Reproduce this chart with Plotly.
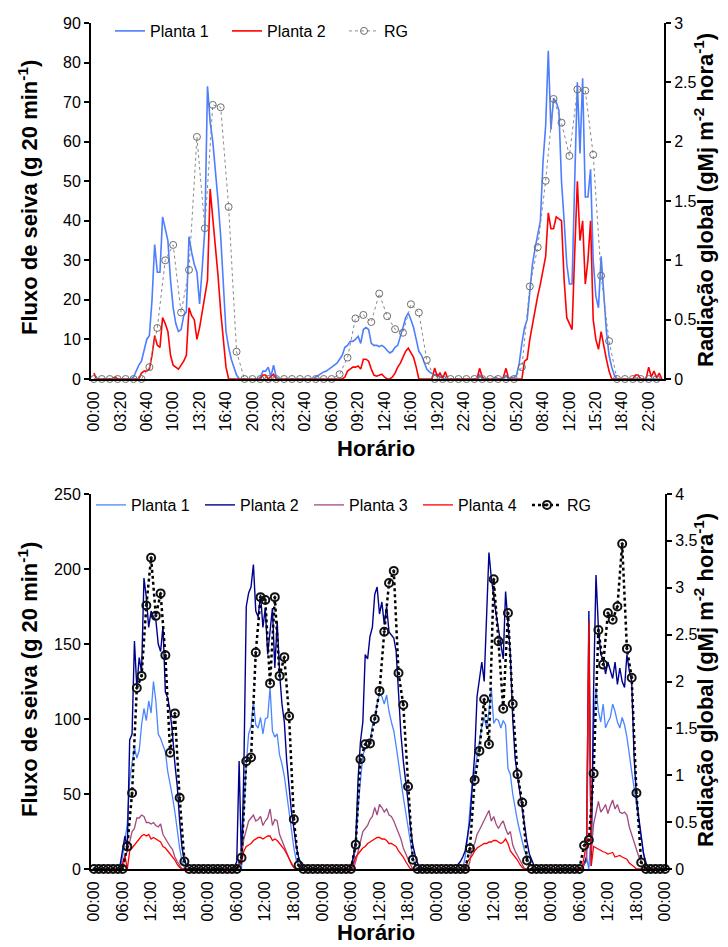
import plotly.graph_objects as go

# ---------------- TOP CHART (20-min steps, 3 days) ----------------
top_tick_labels = ["00:00", "03:20", "06:40", "10:00", "13:20", "16:40", "20:00", "23:20",
                   "02:40", "06:00", "09:20", "12:40", "16:00", "19:20", "22:40", "02:00",
                   "05:20", "08:40", "12:00", "15:20", "18:40", "22:00"]

top_planta1 = [
    # day 1
    0, 0, 0, 0, 0, 0, 0, 0, 0, 0, 0, 0, 0, 0, 0,
    0.5, 2, 3.5, 4.5, 7.5, 10, 11, 20, 34, 27, 27, 41, 38, 35, 25, 18, 14, 12, 12.5, 16, 17,
    36, 32, 29, 27, 19, 28, 38, 74, 65, 60, 53, 45, 36, 24, 12, 8, 5, 3, 1, 0,
    0, 0, 0, 0, 0, 0, 0, 0.5, 2, 2, 3, 0.5, 3.5, 0.5, 0, 0,
    # day 2
    0, 0, 0, 0, 0, 0, 0, 0, 0, 0, 0, 0,
    0.5, 1, 1.5, 1.8, 2, 2.5, 3, 3.3, 4, 5, 6, 8, 8.5, 9.5, 9.5, 10, 10.8, 9, 12.5, 13, 12.5,
    9, 8.5, 8.5, 8.2, 8.5, 8, 7.2, 6.6, 7, 8, 8.5, 10.5, 13, 15.5, 16.7, 15, 13, 10, 7, 6, 4,
    2.5, 1.8, 1.5, 1, 1.2, 0.5, 0.3, 0, 0, 0, 0, 0, 0, 0, 0, 0, 0, 0,
    # day 3
    0, 0, 1, 0, 0, 0, 0, 0, 0.5, 0, 0, 0, 0.8, 0, 0.5, 0.3,
    1, 4, 9, 13, 15, 22, 29, 33, 37, 40, 55, 64, 83, 63, 71, 70, 68, 50, 40, 29, 24, 24,
    50, 75, 57, 76, 46, 46, 53, 30, 21, 18, 31, 20, 12, 6, 3, 1, 0,
    0, 0, 0, 0, 0, 0, 0, 0, 0, 0, 0, 0, 0, 0, 0, 0, 0,
]

top_planta2 = [
    # day 1
    1.5, 0, 0, 0, 0, 0, 0, 0, 0.5, 0, 0, 0, 0, 0, 0, 0, 0, 0,
    1.5, 2, 2, 2.5, 6, 11, 8.5, 8, 15.5, 14, 12, 6, 3.5, 3, 2.5, 3.5, 4.5, 6,
    18, 16, 15, 10, 13, 17, 21, 25, 48, 41, 33, 26, 17, 9, 3,
    0, 0, 0, 0, 0, 0, 0, 0, 0, 0, 0, 0, 0,
    1, 1, 0, 0.5, 1.2, 0, 0, 0,
    # day 2
    0, 0, 0, 0, 0, 0, 0, 0, 0, 0, 0, 0, 0, 0, 0, 0, 0, 0, 0, 0, 0, 0, 0,
    0.5, 2, 2.5, 3, 3, 3.3, 2.5, 5, 5, 4.5, 2.5, 1, 0.7, 1, 1.2, 0.5, 0, 0, 0.5, 1.5,
    3, 4, 5.5, 7, 7.8, 6.5, 5.5, 3, 0, 0, 0, 0, 0, 0, 2.8, 0.5, 1.5, 0.2, 1.8,
    0, 0, 0, 0, 0, 0, 0, 0, 0, 0,
    # day 3
    0, 0, 2.7, 0.5, 0, 0, 0, 0, 0, 0, 0, 0.5, 2.7, 0, 0, 0, 0, 0, 0,
    4.5, 5, 10, 14, 17, 21, 24, 28, 31, 42, 38, 38, 41, 40.5, 40, 25, 15.5, 14, 12.5,
    32, 50, 35, 40, 24, 30, 40, 15, 10, 7.5, 12, 8, 5, 2, 0,
    0, 0, 0, 0, 0, 0, 0, 0,
    1, 1, 0, 0, 0, 3, 0.5, 2, 0.3, 1.5, 0,
]

top_rg = [
    0, 0, 0, 0, 0, 0, 0, 0.1, 0.43, 1.0, 1.13, 0.56, 0.92, 2.04, 1.27, 2.31, 2.29, 1.45, 0.23,
    0, 0, 0, 0, 0,
    0, 0, 0, 0, 0, 0, 0, 0.04, 0.18, 0.51, 0.54, 0.48, 0.72, 0.53, 0.42, 0.39, 0.63, 0.56, 0.16,
    0, 0, 0, 0, 0,
    0, 0, 0, 0, 0, 0, 0.1, 0.78, 1.11, 1.67, 2.36, 2.16, 1.88, 2.44, 2.43, 1.89, 0.87, 0.32,
    0, 0, 0, 0, 0, 0,
]

# ---------------- BOTTOM CHART (30-min steps, 5 days) ----------------
bot_tick_labels = ["00:00", "06:00", "12:00", "18:00"] * 5 + ["00:00"]

bot_planta1 = [
    # day 1
    0, 0, 0, 0, 0, 0, 0, 0, 0, 0, 0, 0,
    8, 18, 30, 60, 70, 81, 74, 79, 96, 107, 99, 112, 104, 125, 112, 90, 87, 82, 78, 65, 57, 48,
    38, 25, 14, 5, 1, 0, 0, 0, 0, 0, 0, 0, 0, 0,
    # day 2
    0, 0, 0, 0, 0, 0, 0, 0, 0, 0, 0, 0,
    0, 5, 0, 40, 70, 90, 95, 112, 96, 94, 101, 90, 100, 101, 121, 92, 88, 90, 76, 70, 62, 50,
    38, 25, 14, 6, 2, 0, 0, 0, 0, 0, 0, 0, 0, 0,
    # day 3
    0, 0, 0, 0, 0, 0, 0, 0, 0, 0, 0, 0,
    0, 5, 15, 41, 61, 76, 80, 83, 85, 95, 100, 110, 117, 115, 110, 116, 105, 98, 92, 82, 70, 60,
    48, 38, 27, 16, 8, 2, 0, 0, 0, 0, 0, 0, 0, 0,
    # day 4
    0, 0, 0, 0, 0, 0, 0, 0, 0, 0, 0, 0,
    8, 20, 40, 58, 65, 75, 85, 95, 101, 94, 105, 121, 97, 100, 99, 94, 99, 96, 67, 63, 50, 40,
    32, 25, 19, 12, 8, 4, 2, 0, 0, 0, 0, 0, 0, 0,
    # day 5
    0, 0, 0, 0, 0, 0, 0, 0, 0, 0, 0, 0,
    0, 0, 3, 8, 0, 27, 95, 121, 105, 98, 110, 94, 98, 101, 110, 105, 98, 94, 101, 96, 88, 75,
    65, 54, 43, 30, 19, 10, 4, 1, 0, 0, 0, 0, 0, 0,
    0,
]

bot_planta2 = [
    # day 1
    0, 0, 0, 0, 0, 0, 0, 0, 0, 0, 0, 3,
    12, 22, 14, 86, 90, 152, 121, 141, 131, 194, 181, 161, 172, 168, 166, 150, 145, 162, 118, 114,
    105, 90, 70, 55, 32, 14, 6, 2, 1, 0, 0, 0, 0, 0, 0, 0,
    # day 2
    0, 0, 0, 0, 0, 0, 0, 0, 0, 0, 0, 1,
    5, 72, 3, 68, 175, 184, 188, 203, 172, 168, 183, 161, 174, 143, 160, 174, 134, 165, 131, 110,
    98, 72, 55, 38, 27, 15, 8, 3, 1, 0, 0, 0, 0, 0, 0, 0,
    # day 3
    0, 0, 0, 0, 0, 0, 0, 0, 0, 0, 0, 0,
    2, 8, 19, 60, 85, 98, 143, 140, 155, 161, 183, 188, 170, 178, 163, 175, 158, 156, 154, 145,
    115, 90, 72, 60, 45, 28, 16, 9, 4, 1, 0, 0, 0, 0, 0, 0,
    # day 4
    0, 0, 0, 0, 0, 0, 0, 0, 0, 3, 5, 8,
    12, 22, 32, 55, 76, 115, 125, 138, 125, 170, 211, 194, 180, 170, 160, 150, 140, 185, 165, 143,
    100, 74, 62, 50, 38, 29, 18, 10, 6, 2, 0, 0, 0, 0, 0, 0,
    # day 5
    0, 0, 0, 0, 0, 0, 0, 0, 0, 0, 0, 0,
    0, 0, 3, 8, 172, 2, 120, 196, 161, 143, 140, 130, 138, 132, 127, 138, 123, 134, 125, 121,
    143, 132, 125, 75, 48, 34, 20, 10, 4, 1, 0, 0, 0, 0, 0, 0,
    0,
]

bot_planta3 = [
    # day 1
    0, 0, 0, 0, 0, 0, 0, 0, 0, 0, 0, 0,
    0, 8, 12, 18, 25, 27, 34, 34, 36, 35, 31, 31, 30, 31, 29, 28, 30, 23, 20, 18,
    15, 13, 8, 5, 2, 0, 0, 0, 0, 0, 0, 0, 0, 0, 0, 0,
    # day 2
    0, 0, 0, 0, 0, 0, 0, 0, 0, 0, 0, 0,
    0, 3, 9, 20, 27, 32, 34, 36, 32, 33, 35, 29, 32, 34, 40, 29, 33, 32, 23, 19,
    16, 12, 7, 3, 1, 0, 0, 0, 0, 0, 0, 0, 0, 0, 0, 0,
    # day 3
    0, 0, 0, 0, 0, 0, 0, 0, 0, 0, 0, 0,
    0, 0, 5, 12, 18, 25, 27, 29, 33, 35, 41, 36, 43, 41, 38, 40, 36, 35, 32, 28,
    23, 20, 14, 10, 6, 3, 0, 0, 0, 0, 0, 0, 0, 0, 0, 0,
    # day 4
    0, 0, 0, 0, 0, 0, 0, 0, 0, 0, 0, 0,
    0, 0, 5, 14, 17, 23, 26, 29.5, 33, 36, 39, 32, 35, 30, 27, 30, 32, 27, 23, 25,
    16, 12, 9, 6, 2, 0, 0, 0, 0, 0, 0, 0, 0, 0, 0, 0,
    # day 5
    0, 0, 0, 0, 0, 0, 0, 0, 0, 0, 0, 0,
    0, 0, 3, 5, 123, 12, 30, 38, 45, 38, 40, 43, 37, 42, 46, 40, 43, 38, 37, 38,
    36, 28, 23, 19, 13, 8, 5, 2, 0, 0, 0, 0, 0, 0, 0, 0,
    0,
]

bot_planta4 = [
    # day 1
    0, 0, 0, 0, 0, 0, 0, 0, 0, 0, 0, 0,
    4, 9, 0, 12, 14, 16, 18, 20, 22, 23, 22, 23, 20, 21, 20, 19, 18, 15, 14, 12,
    10, 8, 6, 3, 1, 0, 0, 0, 0, 0, 0, 0, 0, 0, 0, 0,
    # day 2
    0, 0, 0, 0, 0, 0, 0, 0, 0, 0, 0, 0,
    0, 2, 5, 12, 15, 16, 17, 19, 20, 21, 21, 20, 21, 22, 22, 19, 20, 19, 17, 15,
    13, 10, 7, 4, 1, 0, 0, 0, 0, 0, 0, 0, 0, 0, 0, 0,
    # day 3
    0, 0, 0, 0, 0, 0, 0, 0, 0, 0, 0, 0,
    0, 3, 8, 10, 12, 14, 15, 17, 18, 19, 20, 21, 21, 20, 20, 19, 17, 17, 16, 15,
    12, 10, 8, 5, 2, 0, 0, 0, 0, 0, 0, 0, 0, 0, 0, 0,
    # day 4
    0, 0, 0, 0, 0, 0, 0, 0, 0, 0, 0, 0,
    0, 5, 7, 9, 12, 14, 15, 16, 17, 17, 18, 18, 19, 19, 18, 17, 18, 20, 17, 12,
    10, 8, 6, 3, 1, 0, 0, 0, 0, 0, 0, 0, 0, 0, 0, 0,
    # day 5
    0, 0, 0, 0, 0, 0, 0, 0, 0, 0, 0, 0,
    0, 0, 8, 17, 165, 2, 15, 14, 13, 12, 11.5, 11, 10, 10.5, 11, 8, 8.5, 9, 8, 7,
    6.5, 4, 3, 1.5, 0, 0, 0, 0, 0, 0, 0, 0, 0, 0, 0, 0,
    0,
]

bot_rg = [
    0, 0, 0, 0, 0, 0, 0, 0.24, 0.81, 1.93, 2.06, 2.81, 3.32, 2.70, 2.94, 2.28, 1.24, 1.66, 0.76, 0.08,
    0, 0, 0, 0,
    0, 0, 0, 0, 0, 0, 0, 0.12, 1.15, 1.19, 2.31, 2.90, 2.87, 1.98, 2.90, 2.06, 2.26, 1.63, 0.53, 0.04,
    0, 0, 0, 0,
    0, 0, 0, 0, 0, 0, 0, 0.26, 1.17, 1.33, 1.34, 1.60, 1.90, 2.53, 3.05, 3.18, 2.09, 1.75, 0.88, 0.10,
    0, 0, 0, 0,
    0, 0, 0, 0, 0, 0, 0, 0.22, 0.95, 1.26, 1.81, 1.33, 3.09, 2.43, 1.71, 2.73, 1.76, 1.01, 0.71, 0.09,
    0, 0, 0, 0,
    0, 0, 0, 0, 0, 0, 0, 0.25, 0.31, 1.02, 2.55, 2.18, 2.73, 2.66, 2.80, 3.47, 2.35, 2.04, 0.81, 0.07,
    0, 0, 0, 0,
    0,
]

# ---------------- positions derived from the data ----------------
top_x = list(range(len(top_planta1)))            # 20-min step index
top_rg_x = [3 * j for j in range(len(top_rg))]   # hourly -> step index
top_tick_vals = [10 * k for k in range(len(top_tick_labels))]

bot_x = [0.5 * k for k in range(len(bot_planta1))]   # hours
bot_rg_x = list(range(len(bot_rg)))                  # hours
bot_tick_vals = [6 * k for k in range(len(bot_tick_labels))]

FONT = "Liberation Sans, Arial, sans-serif"
W, H = 728, 947

fig = go.Figure()

# top traces
fig.add_trace(go.Scatter(x=top_x, y=top_planta1, mode="lines", name="Planta 1",
                         line=dict(color="#4D7EFF", width=1.6), xaxis="x", yaxis="y", legend="legend"))
fig.add_trace(go.Scatter(x=top_x, y=top_planta2, mode="lines", name="Planta 2",
                         line=dict(color="#FF0000", width=1.6), xaxis="x", yaxis="y", legend="legend"))
fig.add_trace(go.Scatter(x=top_rg_x, y=top_rg, mode="lines+markers", name="RG",
                         line=dict(color="#8A8A8A", width=1, dash="dot"),
                         marker=dict(symbol="circle-open", size=7, color="#6E6E6E", line=dict(width=1)),
                         xaxis="x", yaxis="y2", legend="legend", cliponaxis=False))

# bottom traces
fig.add_trace(go.Scatter(x=bot_x, y=bot_planta1, mode="lines", name="Planta 1",
                         line=dict(color="#4A86FF", width=1.3), xaxis="x2", yaxis="y3", legend="legend2"))
fig.add_trace(go.Scatter(x=bot_x, y=bot_planta2, mode="lines", name="Planta 2",
                         line=dict(color="#00008F", width=1.4), xaxis="x2", yaxis="y3", legend="legend2"))
fig.add_trace(go.Scatter(x=bot_x, y=bot_planta3, mode="lines", name="Planta 3",
                         line=dict(color="#A24C7E", width=1.3), xaxis="x2", yaxis="y3", legend="legend2"))
fig.add_trace(go.Scatter(x=bot_x, y=bot_planta4, mode="lines", name="Planta 4",
                         line=dict(color="#FF0000", width=1.3), xaxis="x2", yaxis="y3", legend="legend2"))
fig.add_trace(go.Scatter(x=bot_rg_x, y=bot_rg, mode="lines+markers", name="RG",
                         line=dict(color="#000000", width=2.5, dash="dot"),
                         marker=dict(symbol="circle-open-dot", size=8, color="#111111", line=dict(width=2)),
                         xaxis="x2", yaxis="y4", legend="legend2", cliponaxis=False))

tickfont = dict(family=FONT, size=16, color="#000000")

def xaxis_common(tickvals, ticktext, rng, domain, anchor):
    return dict(domain=domain, anchor=anchor, range=rng, tickmode="array", tickvals=tickvals,
                ticktext=ticktext, tickangle=-90, ticks="outside", ticklen=4,
                tickcolor="rgba(0,0,0,0)", showline=True, linecolor="#000000", linewidth=2,
                showgrid=False, zeroline=False, tickfont=tickfont, automargin=False)

def yaxis_common(domain, anchor, rng, dtick, side="left", overlaying=None):
    d = dict(domain=domain, anchor=anchor, range=rng, dtick=dtick, tick0=0, side=side,
             ticks="outside", ticklen=5, tickwidth=1.5, tickcolor="#000000",
             showline=True, linecolor="#000000", linewidth=2, showgrid=False, zeroline=False,
             tickfont=tickfont, automargin=False)
    if overlaying:
        d["overlaying"] = overlaying
    return d

top_dom_x = [83 / W, 656 / W]
top_dom_y = [1 - 371 / H, 1 - 15 / H]
bot_dom_x = [83 / W, 657 / W]
bot_dom_y = [1 - 861 / H, 1 - 486 / H]

fig.update_layout(
    width=W, height=H,
    margin=dict(l=0, r=0, t=0, b=0),
    paper_bgcolor="#FFFFFF", plot_bgcolor="rgba(0,0,0,0)",
    font=dict(family=FONT, color="#000000"),
    xaxis=xaxis_common(top_tick_vals, top_tick_labels, [-1.1, 215.8], top_dom_x, "y"),
    yaxis=yaxis_common(top_dom_y, "x", [0, 90], 10),
    yaxis2=yaxis_common(top_dom_y, "x", [0, 3], 0.5, side="right", overlaying="y"),
    xaxis2=xaxis_common(bot_tick_vals, bot_tick_labels, [-0.63, 120.0], bot_dom_x, "y3"),
    yaxis3=yaxis_common(bot_dom_y, "x2", [0, 250], 50),
    yaxis4=yaxis_common(bot_dom_y, "x2", [0, 4], 0.5, side="right", overlaying="y3"),
    legend=dict(orientation="h", x=102 / W, y=1 - 23 / H, xanchor="left", yanchor="middle",
                bgcolor="rgba(0,0,0,0)", font=dict(family=FONT, size=16, color="#000000"),
                entrywidth=72, entrywidthmode="pixels", itemwidth=30),
    legend2=dict(orientation="h", x=83 / W, y=1 - 497 / H, xanchor="left", yanchor="middle",
                 bgcolor="rgba(0,0,0,0)", font=dict(family=FONT, size=16, color="#000000"),
                 entrywidth=64, entrywidthmode="pixels", itemwidth=30),
    showlegend=True,
)

title_font = dict(family=FONT, size=22, color="#000000")
annotations = [
    dict(text="<b>Fluxo de seiva (g 20 min<sup>-1</sup>)</b>", x=20 / W, y=1 - 190 / H, textangle=-90),
    dict(text="<b>Radiação global (gMj m<sup>-2</sup> hora<sup>-1</sup>)</b>", x=696 / W, y=1 - 192 / H, textangle=-90),
    dict(text="<b>Horário</b>", x=368 / W, y=1 - 440 / H, textangle=0),
    dict(text="<b>Fluxo de seiva (g 20 min<sup>-1</sup>)</b>", x=20 / W, y=1 - 672 / H, textangle=-90),
    dict(text="<b>Radiação global (gMj m<sup>-2</sup> hora<sup>-1</sup>)</b>", x=696 / W, y=1 - 672 / H, textangle=-90),
    dict(text="<b>Horário</b>", x=368 / W, y=1 - 924 / H, textangle=0),
]
fig.update_layout(annotations=[dict(a, xref="paper", yref="paper", showarrow=False,
                                     xanchor="center", yanchor="middle", font=title_font)
                               for a in annotations])

fig.write_html("out.html")
